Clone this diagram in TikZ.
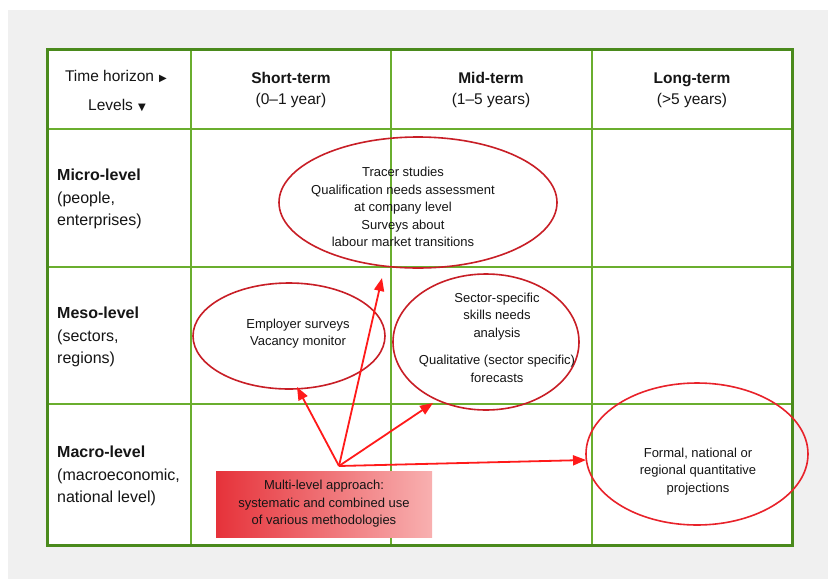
\documentclass[tikz,border=0pt]{standalone}
\usepackage{fontspec}
\setmainfont{Liberation Sans}
\newfontfamily\dejavu{DejaVu Sans}
\usetikzlibrary{arrows.meta,shapes.geometric}
\definecolor{bgray}{HTML}{F0F0F0}
\definecolor{gout}{HTML}{4A8A1C}
\definecolor{gin}{HTML}{6AAE2E}
\definecolor{ellred}{HTML}{C81E26}
\definecolor{ellred2}{HTML}{E8222A}
\definecolor{arrred}{HTML}{FF1A1A}
\definecolor{boxdark}{HTML}{E6323A}
\definecolor{boxlight}{HTML}{F8B0B0}
\definecolor{txt}{HTML}{151515}
\tikzset{
  hdr/.style={text=txt,align=center,font=\fontsize{15.5}{21}\selectfont,inner sep=0},
  rowlbl/.style={text=txt,align=left,anchor=west,font=\fontsize{16}{22.5}\selectfont,inner sep=0},
  etext/.style={text=txt,align=center,font=\fontsize{13}{17.5}\selectfont,inner sep=0},
  ell/.style={draw=ellred,line width=1.6pt,ellipse,inner sep=0},
  arr/.style={draw=arrred,line width=1.8pt,-{Triangle[length=13pt,width=10pt]}},
  mlbox/.style={left color=boxdark,right color=boxlight,draw=none,inner sep=0,
    text=txt,align=center,font=\fontsize{13}{17.5}\selectfont,
    minimum width=216,minimum height=66}
}
\begin{document}
\begin{tikzpicture}[x=1pt,y=-1pt]
\useasboundingbox (0,0) rectangle (828,579);
\fill[bgray] (8,10) rectangle (828,579);
\fill[white] (47,49) rectangle (792,545);
% inner grid
\draw[gin,line width=1.2pt] (191,49) -- (191,545);
\draw[gin,line width=1.2pt] (391,49) -- (391,545);
\draw[gin,line width=1.2pt] (592,49) -- (592,545);
\draw[gin,line width=1.6pt] (47,129) -- (792,129);
\draw[gin,line width=1.6pt] (47,267) -- (792,267);
\draw[gin,line width=1.6pt] (47,404) -- (792,404);
\draw[gout,line width=3pt] (47,49) rectangle (792,545);

% header
\node[hdr] (th) at (116,76) {Time horizon\,\,{\dejavu\fontsize{10}{10}\selectfont ▶}};
\node[hdr] (lv) at (117,105) {Levels\,\,{\dejavu\fontsize{10}{10}\selectfont ▼}};
\node[hdr] (st) at (291,90) {\textbf{Short-term}\\(0–1 year)};
\node[hdr] (mt) at (491,90) {\textbf{Mid-term}\\(1–5 years)};
\node[hdr] (lt) at (692,90) {\textbf{Long-term}\\(>5 years)};

% row labels
\node[rowlbl] (micro) at (57,199) {\textbf{Micro-level}\\(people,\\enterprises)};
\node[rowlbl] (meso) at (57,337) {\textbf{Meso-level}\\(sectors,\\regions)};
\node[rowlbl] (macro) at (57,476) {\textbf{Macro-level}\\(macroeconomic,\\national level)};

% ellipses
\node[ell,minimum width=278,minimum height=131] (trc) at (418,202.5) {};
\node[etext] (trct) at (403,207) {Tracer studies\\Qualification needs assessment\\at company level\\Surveys about\\labour market transitions};
\node[ell,minimum width=192,minimum height=106] (emp) at (289,336) {};
\node[etext] (empt) at (298,333.5) {Employer surveys\\Vacancy monitor};
\node[ell,minimum width=186,minimum height=136] (sec) at (486,342) {};
\node[etext] (sect) at (497,337.5) {Sector-specific\\skills needs\\analysis\\[10pt]Qualitative (sector specific)\\forecasts};
\node[ell,draw=ellred2,minimum width=222,minimum height=142] (frm) at (697,454) {};
\node[etext] (frmt) at (698,471.5) {Formal, national or\\regional quantitative\\projections};

% multi-level box
\node[mlbox] (ml) at (324,504) {Multi-level approach:\\systematic and combined use\\of various methodologies};

% arrows
\coordinate (o) at (339,466);
\coordinate (tipE) at (297,387);
\coordinate (tipT) at (382,278);
\coordinate (tipS) at (433,403);
\coordinate (tipF) at (586,460);
\draw[arr] (o) -- (tipE);
\draw[arr] (o) -- (tipT);
\draw[arr] (o) -- (tipS);
\draw[arr] (o) -- (tipF);
\end{tikzpicture}
\end{document}
